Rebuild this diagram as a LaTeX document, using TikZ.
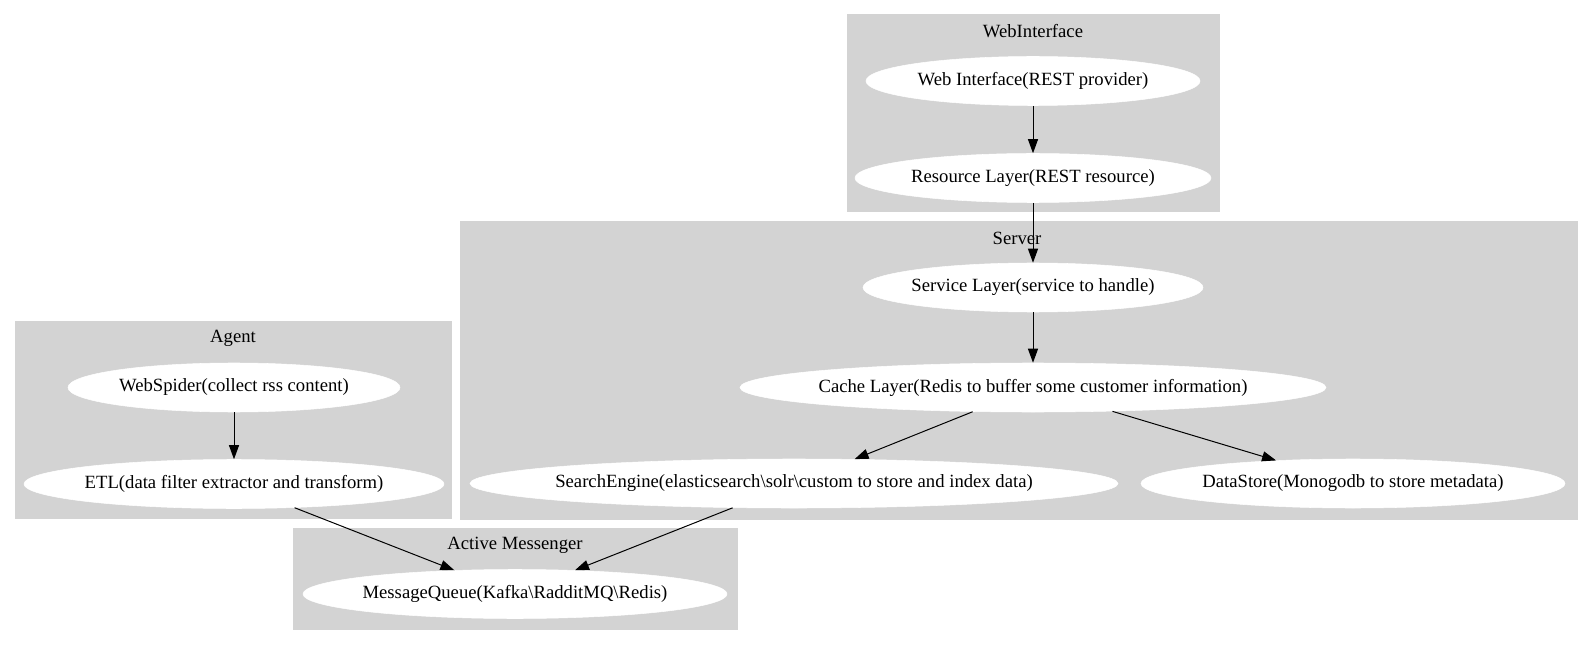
\documentclass[tikz,border=0pt]{standalone}
\usepackage{fontspec}
\setmainfont{Liberation Serif}
\usetikzlibrary{shapes.geometric,arrows.meta}
\definecolor{clgray}{RGB}{211,211,211}
\tikzset{
  cluster/.style={fill=clgray,draw=clgray,line width=0.75pt},
  ctitle/.style={inner sep=0pt,font=\fontsize{14pt}{16pt}\selectfont},
  ell/.style={ellipse,fill=white,draw=white,inner sep=0pt,minimum height={49*0.75pt},font=\fontsize{14pt}{16pt}\selectfont},
  edge/.style={line width=0.75pt,-{Triangle[length=10.5pt,width=7.5pt]}}
}
\newcommand{\zt}[1]{\makebox[0pt]{#1}}
\begin{document}
\begin{tikzpicture}[x=0.75pt,y=-0.75pt]
\useasboundingbox[fill=white] (0,0) rectangle (1592,645);
% clusters
\draw[cluster] (847,15) rectangle (1219,212);
\draw[cluster] (460,222) rectangle (1577,519);
\draw[cluster] (15,322) rectangle (451,518);
\draw[cluster] (293,528) rectangle (737,629);
\node[ctitle] (tweb) at (1033,31) {WebInterface};
\node[ctitle] (tsrv) at (1017,238) {Server};
\node[ctitle] (tagt) at (233,338) {Agent};
\node[ctitle] (tam) at (515,545) {Active Messenger};
% nodes
\node[ell,minimum width={334*0.75pt}] (web) at (1033,81) {\zt{Web Interface(REST provider)}};
\node[ell,minimum width={356*0.75pt}] (res) at (1033,178) {\zt{Resource Layer(REST resource)}};
\node[ell,minimum width={340*0.75pt}] (svc) at (1033,287.5) {\zt{Service Layer(service to handle)}};
\node[ell,minimum width={586*0.75pt}] (cache) at (1033,387.5) {\zt{Cache Layer(Redis to buffer some customer information)}};
\node[ell,minimum width={648*0.75pt}] (se) at (794,483.5) {\zt{SearchEngine(elasticsearch\textbackslash solr\textbackslash custom to store and index data)}};
\node[ell,minimum width={424*0.75pt}] (ds) at (1353,483.5) {\zt{DataStore(Monogodb to store metadata)}};
\node[ell,minimum width={332*0.75pt}] (spider) at (234,387.5) {\zt{WebSpider(collect rss content)}};
\node[ell,minimum width={420*0.75pt}] (etl) at (234,484) {\zt{ETL(data filter extractor and transform)}};
\node[ell,minimum width={424*0.75pt}] (mq) at (515,594) {\zt{MessageQueue(Kafka\textbackslash RadditMQ\textbackslash Redis)}};
% edges
\draw[edge] (web) -- (res);
\draw[edge] (res) -- (svc);
\draw[edge] (svc) -- (cache);
\draw[edge] (cache) -- (se);
\draw[edge] (cache) -- (ds);
\draw[edge] (spider) -- (etl);
\draw[edge] (etl) -- (mq);
\draw[edge] (se) -- (mq);
\end{tikzpicture}
\end{document}
